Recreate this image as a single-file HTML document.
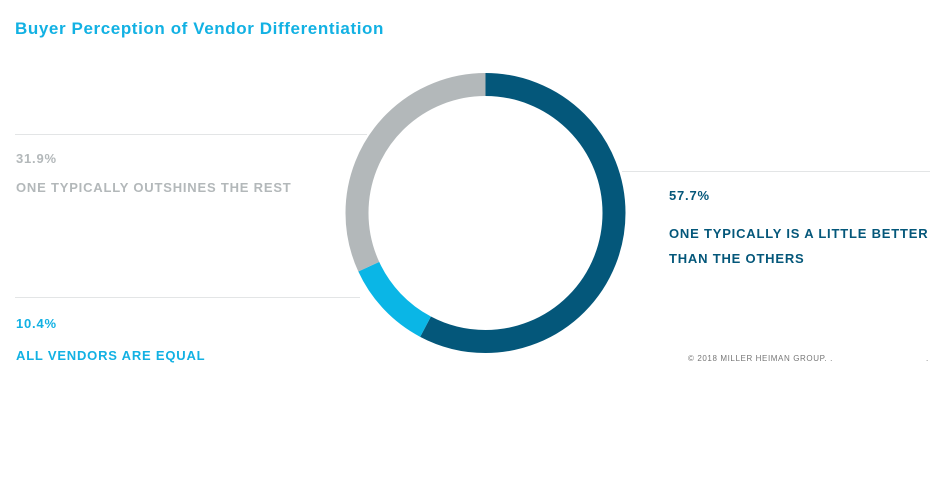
<!DOCTYPE html>
<html><head><style>
body{margin:0;width:949px;height:484px;background:#fff;position:relative;overflow:hidden;font-family:"Liberation Sans",sans-serif;font-weight:bold}
.t{position:absolute;white-space:nowrap;letter-spacing:0.8px}
.l{position:absolute;height:1px;background:#e3e5e6}
</style></head><body>
<div class="t" style="left:15px;top:19px;font-size:17px;color:#12b1e3;letter-spacing:0.6px">Buyer Perception of Vendor Differentiation</div>
<div class="l" style="left:15px;top:134px;width:352px"></div>
<div class="l" style="left:15px;top:297px;width:345px"></div>
<div class="l" style="left:622px;top:171px;width:308px"></div>
<div class="t" style="left:16px;top:151px;font-size:13px;color:#b3b8ba">31.9%</div>
<div class="t" style="left:16px;top:180px;font-size:13px;color:#b3b8ba">ONE TYPICALLY OUTSHINES THE REST</div>
<div class="t" style="left:16px;top:316px;font-size:13px;color:#12b1e3">10.4%</div>
<div class="t" style="left:16px;top:348px;font-size:13px;color:#12b1e3">ALL VENDORS ARE EQUAL</div>
<div class="t" style="left:669px;top:188px;font-size:13px;color:#04577a">57.7%</div>
<div class="t" style="left:669px;top:221px;font-size:13px;color:#04577a;line-height:25px">ONE TYPICALLY IS A LITTLE BETTER<br>THAN THE OTHERS</div>
<div class="t" style="left:688px;top:354px;font-size:8px;color:#777;font-weight:normal;letter-spacing:0.6px">© 2018 MILLER HEIMAN GROUP. .</div>
<div class="t" style="left:926px;top:354px;font-size:8px;color:#777;font-weight:normal">.</div>
<svg style="position:absolute;left:0;top:0" width="949" height="484">
<g transform="translate(485.5,213) rotate(-90)" fill="none" stroke-width="23">
<circle r="128.5" stroke="#04577a" stroke-dasharray="465.9 1000"/>
<circle r="128.5" stroke="#0ab6e6" stroke-dasharray="84 1000" stroke-dashoffset="-465.9"/>
<circle r="128.5" stroke="#b3b8ba" stroke-dasharray="257.6 1000" stroke-dashoffset="-549.9"/>
</g>
</svg>
</body></html>
